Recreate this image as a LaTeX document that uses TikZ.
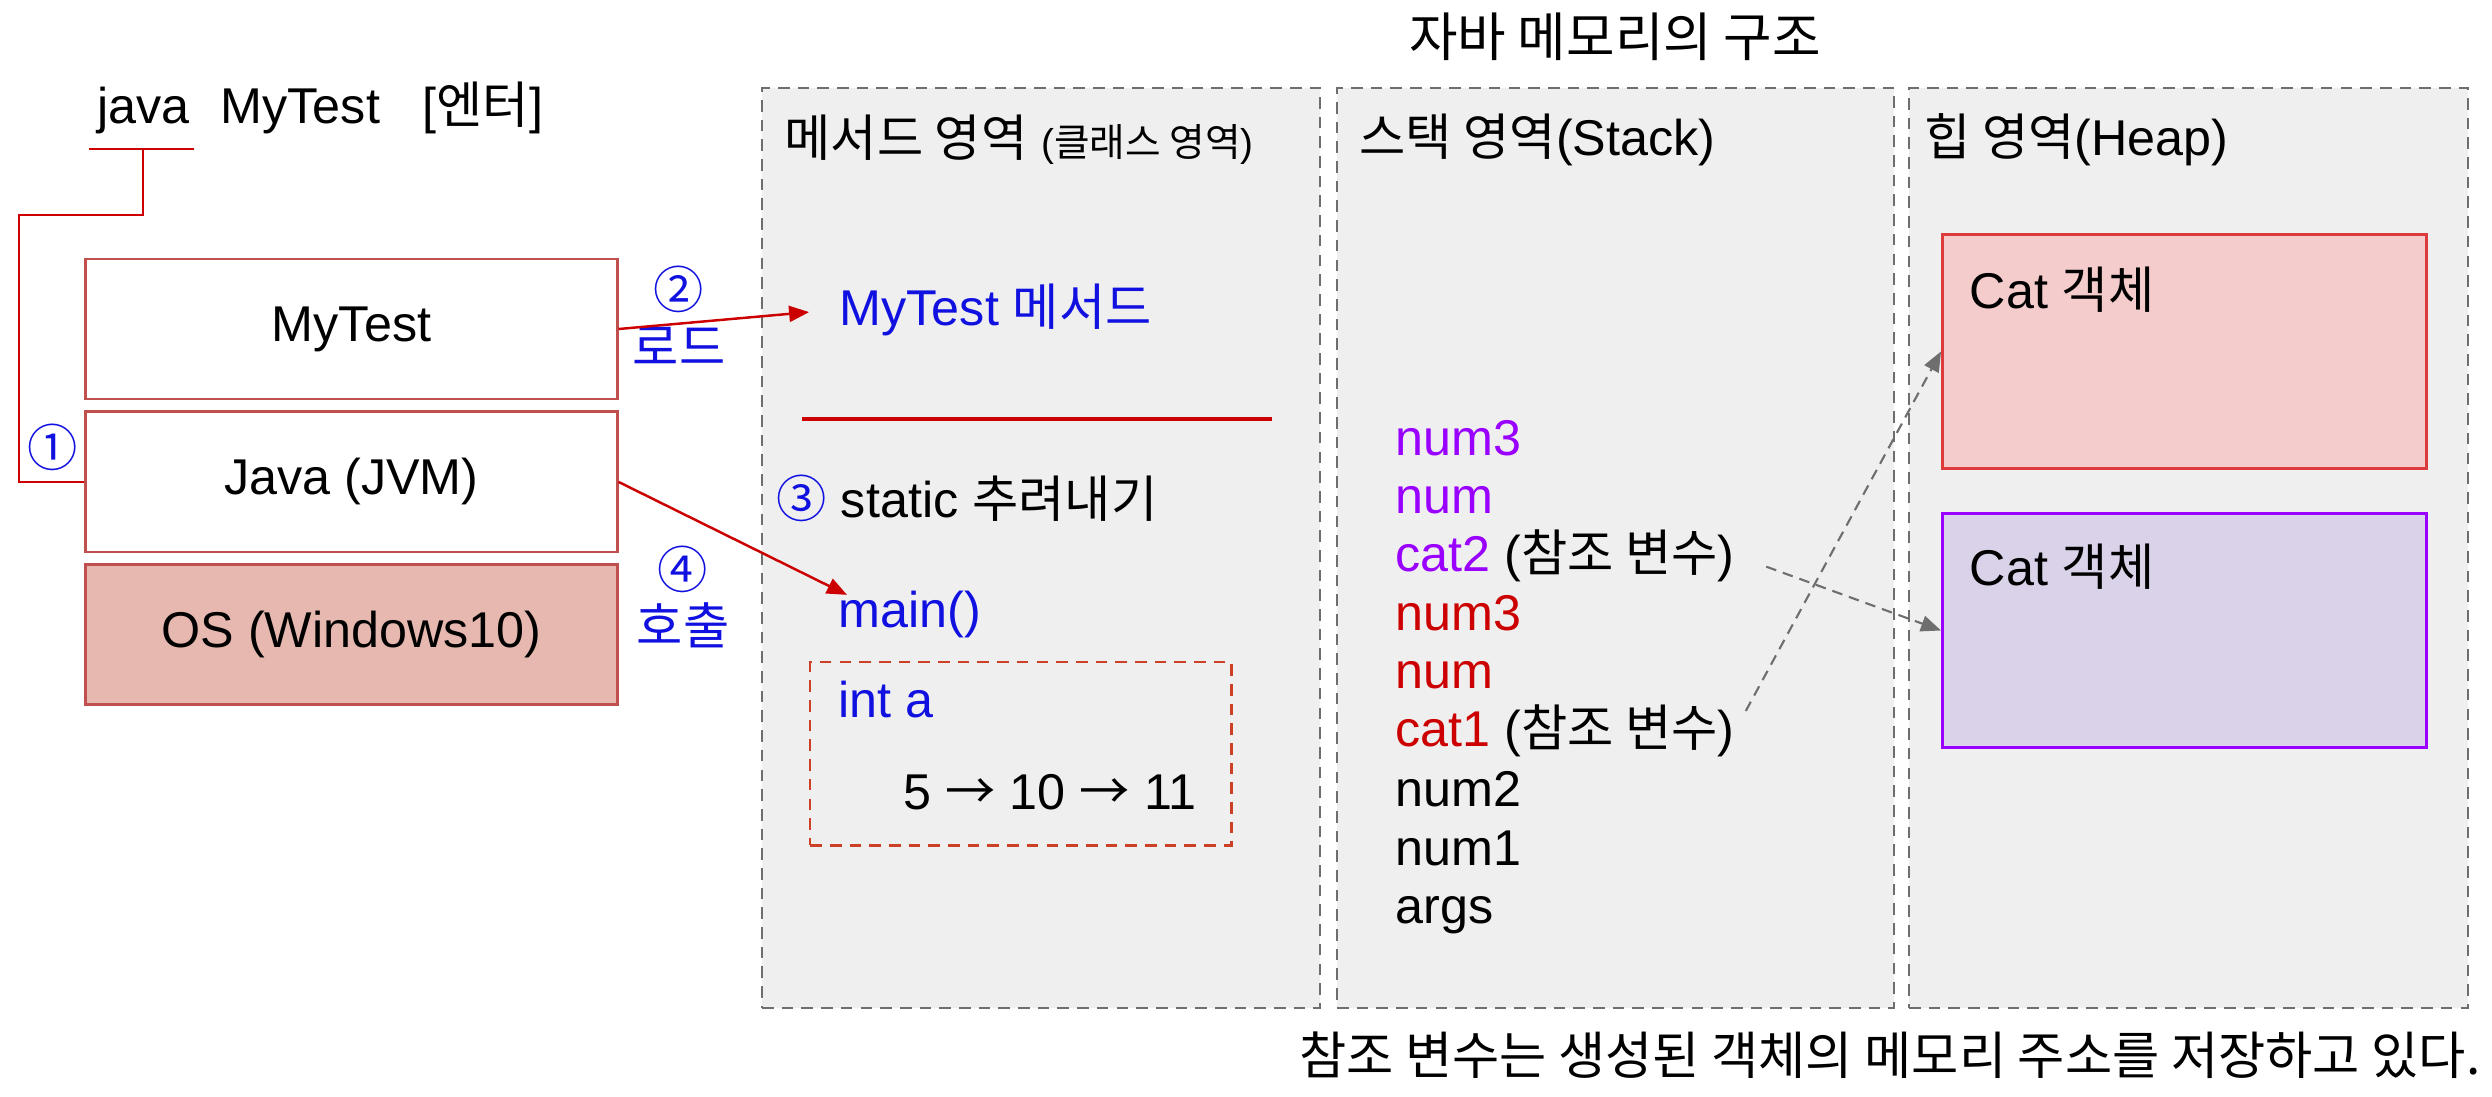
\documentclass[tikz,border=0pt]{standalone}
\usepackage{fontspec}
\setmainfont{Liberation Sans}
\newfontfamily\kr{Noto Sans CJK KR}
\usetikzlibrary{arrows.meta, positioning}

\definecolor{areagray}{HTML}{EFEFEF}
\definecolor{arealine}{HTML}{6E6E6E}
\definecolor{boxred}{HTML}{C0504D}
\definecolor{osfill}{HTML}{E6B8AF}
\definecolor{linered}{HTML}{CC0000}
\definecolor{stepblue}{HTML}{1010E0}
\definecolor{varpurple}{HTML}{9900FF}
\definecolor{varred}{HTML}{CC0000}
\definecolor{catredfill}{HTML}{F4CCCC}
\definecolor{catredline}{HTML}{DD3B3B}
\definecolor{catpurplefill}{HTML}{D9D2E9}
\definecolor{framered}{HTML}{CC4125}

\begin{document}
\begin{tikzpicture}[
    x=0.01cm, y=-0.01cm,
    base_font/.style={font=\fontsize{14.3}{17}\selectfont},
    txt_style/.style={base_font, inner sep=0pt, anchor=base west},
    step_style/.style={base_font, inner sep=0pt, text=stepblue},
    layer_box/.style={draw=boxred, line width=0.8pt, minimum width=5.31cm, minimum height=1.4cm, base_font, inner sep=0pt},
    area_style/.style={draw=arealine, fill=areagray, line width=0.6pt, dash pattern=on 3.3pt off 2.3pt, minimum height=9.19cm, anchor=north west},
    cat_style/.style={line width=0.8pt, minimum width=4.84cm, minimum height=2.34cm, anchor=north west},
    red_line/.style={linered, line width=0.7pt},
    call_arrow/.style={red_line, -{Triangle[length=0.2cm, width=0.16cm]}},
    ref_arrow/.style={arealine, line width=0.6pt, dash pattern=on 3pt off 2pt, -{Triangle[length=0.2cm, width=0.16cm]}}
]

\fill[white] (0,0) rectangle (2492,1096);
\useasboundingbox (0,0) rectangle (2492,1096);

% Title
\node[font=\fontsize{15}{18}\selectfont\kr] (title) at (1615,37) {자바 메모리의 구조};

% Command line
\node[txt_style] (cmd_java) at (97,123) {java};
\node[txt_style] (cmd_name) at (220,123) {MyTest};
\node[txt_style] (cmd_enter) at (422,123) {[{\kr 엔터}]};
\coordinate (ul_left) at (89,149);
\coordinate (ul_right) at (194,149);
\coordinate (ul_mid) at (143,149);

% Layers (left)
\node[layer_box, fill=white] (mytest) at (351.5,329) {MyTest};
\node[layer_box, fill=white, below=0.1cm of mytest] (jvm) {Java (JVM)};
\node[layer_box, fill=osfill, below=0.1cm of jvm] (os) {OS (Windows10)};

\draw[red_line] (ul_left) -- (ul_right);
\draw[red_line] (ul_mid) -- ++(0,66) -- ++(-124,0) |- (jvm.west);

% Step labels
\node[step_style] (step1) at (53,447) {\kr ①};
\node[step_style] (step2) at (679,289) {\kr ②};
\node[step_style] (load_lbl) at (679,346) {\kr 로드};
\node[step_style] (step4) at (683,569) {\kr ④};
\node[step_style] (call_lbl) at (683,625) {\kr 호출};

% Memory areas
\node[area_style, minimum width=5.58cm] (method_area) at (761,87) {};
\node[area_style, minimum width=5.57cm] (stack_area) at (1336,87) {};
\node[area_style, minimum width=5.59cm] (heap_area) at (1908,87) {};

\node[txt_style] (method_title) at (784,156) {{\kr 메서드 영역} {\fontsize{11}{13}\selectfont({\kr 클래스 영역})}};
\node[txt_style] (stack_title) at (1359,155) {{\kr 스택 영역}(Stack)};
\node[txt_style] (heap_title) at (1924,155) {{\kr 힙 영역}(Heap)};

% Method area content
\node[txt_style, text=stepblue] (mt_method) at (839,325) {MyTest {\kr 메서드}};
\draw[linered, line width=1.4pt] (802,419) -- (1272,419);
\node[txt_style] (static_lbl) at (776,517) {\textcolor{stepblue}{\kr ③} static {\kr 추려내기}};
\node[txt_style, text=stepblue] (main_call) at (838,627) {main()};
\node[draw=framered, line width=0.7pt, dash pattern=on 3.3pt off 2.3pt, minimum width=4.21cm, minimum height=1.83cm, anchor=north west] (int_frame) at (809,661) {};
\node[txt_style, text=stepblue] (int_a) at (838,717) {int a};
\node[txt_style] (int_vals) at (903,809) {5 {\kr →} 10 {\kr →} 11};

% Stack area content
\node[txt_style, text=varpurple] (var_num3b) at (1395,455) {num3};
\node[txt_style, text=varpurple] (var_numb) at (1395,513) {num};
\node[txt_style] (var_cat2) at (1395,571) {\textcolor{varpurple}{cat2} ({\kr 참조 변수})};
\node[txt_style, text=varred] (var_num3a) at (1395,630) {num3};
\node[txt_style, text=varred] (var_numa) at (1395,688) {num};
\node[txt_style] (var_cat1) at (1395,746) {\textcolor{varred}{cat1} ({\kr 참조 변수})};
\node[txt_style] (var_num2) at (1395,806) {num2};
\node[txt_style] (var_num1) at (1395,865) {num1};
\node[txt_style] (var_args) at (1395,923) {args};

% Heap area content
\node[cat_style, draw=catredline, fill=catredfill] (cat_obj1) at (1941,233) {};
\node[cat_style, draw=varpurple, fill=catpurplefill] (cat_obj2) at (1941,512) {};
\node[txt_style] (cat_lbl1) at (1969,308) {Cat {\kr 객체}};
\node[txt_style] (cat_lbl2) at (1969,585) {Cat {\kr 객체}};

% Note
\node[font=\fontsize{14.6}{17}\selectfont\kr, inner sep=0pt, anchor=base east] (note) at (2481,1074) {참조 변수는 생성된 객체의 메모리 주소를 저장하고 있다.};

% Arrows
\draw[call_arrow, shorten >=0.3cm] (mytest.east) -- (mt_method.west);
\draw[call_arrow] (jvm.east) -- ([shift={(9,5)}]main_call.north west);
\draw[ref_arrow, shorten <=0.33cm] (var_cat2.east) -- (cat_obj2.west);
\draw[ref_arrow, shorten <=0.22cm] (var_cat1.east) -- (cat_obj1.west);

\end{tikzpicture}
\end{document}
